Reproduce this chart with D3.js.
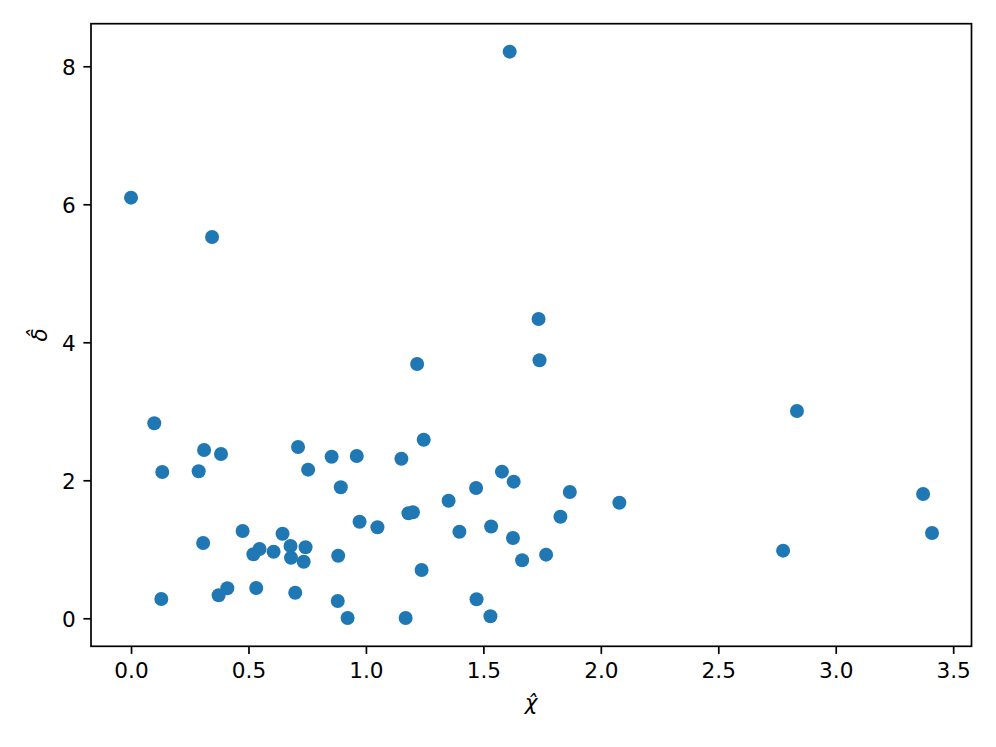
<!DOCTYPE html>
<html>
<head>
<meta charset="utf-8">
<script src="https://cdn.jsdelivr.net/npm/d3@7"></script>
<style>
html,body{margin:0;padding:0;background:#fff;}
svg{display:block;}
text{font-family:"DejaVu Sans",sans-serif;fill:#000;}
</style>
</head>
<body>
<svg id="chart" width="996" height="747"></svg>
<script>
const xValues = [0.000,0.345,1.612,1.735,1.739,1.218,2.835,0.099,1.246,0.711,0.311,0.383,0.854,0.961,1.151,0.133,0.288,0.754,1.579,1.629,0.893,1.469,1.352,1.868,2.079,3.372,1.181,1.200,1.828,0.973,1.049,1.533,1.398,0.475,3.410,0.645,1.626,0.307,0.547,0.679,0.743,0.607,0.521,1.767,0.681,0.735,0.882,2.776,1.665,1.237,0.410,0.373,0.533,0.699,0.129,0.880,1.471,0.922,1.169,1.530];
const yValues = [6.096,5.526,8.212,4.338,3.739,3.686,3.004,2.826,2.588,2.483,2.439,2.381,2.342,2.352,2.313,2.120,2.130,2.154,2.125,1.980,1.899,1.888,1.704,1.830,1.675,1.801,1.522,1.536,1.472,1.400,1.319,1.330,1.255,1.265,1.236,1.226,1.164,1.091,1.004,1.048,1.029,0.965,0.928,0.922,0.878,0.820,0.907,0.980,0.842,0.700,0.435,0.333,0.439,0.371,0.280,0.251,0.275,0.004,0.004,0.030];
const xTicks = [0.0,0.5,1.0,1.5,2.0,2.5,3.0,3.5];
const yTicks = [0,2,4,6,8];
const xLabel = "\u03C7\u0302";
const yLabel = "\u03B4\u0302";

const svg = d3.select("#chart");
const L = 91, R = 971.5, T = 23.7, B = 646.3;
const fs = 21.6;
const x = d3.scaleLinear().domain([-0.1704, 3.578]).range([L, R]);
const y = d3.scaleLinear().domain([-0.406, 8.617]).range([B, T]);

svg.append("rect").attr("width",996).attr("height",747).attr("fill","#fff");

const pts = xValues.map((v,i)=>({x:v,y:yValues[i]}));
svg.append("g").selectAll("circle").data(pts).join("circle")
  .attr("cx",d=>x(d.x)).attr("cy",d=>y(d.y)).attr("r",7)
  .attr("fill","#1f77b4");

// frame
svg.append("rect").attr("x",L).attr("y",T).attr("width",R-L).attr("height",B-T)
  .attr("fill","none").attr("stroke","#000").attr("stroke-width",1.7);

const xAxis = d3.axisBottom(x).tickValues(xTicks).tickFormat(d3.format(".1f")).tickSizeInner(7.6).tickSizeOuter(0).tickPadding(7.6);
const gx = svg.append("g").attr("transform",`translate(0,${B})`).call(xAxis);
gx.select(".domain").remove();
gx.selectAll(".tick line").attr("stroke","#000").attr("stroke-width",1.7);
gx.selectAll(".tick text").attr("font-size",fs).attr("font-family","DejaVu Sans").attr("dy",null).attr("y",null)
  .attr("dominant-baseline","alphabetic").attr("transform","translate(0,32)");

const yAxis = d3.axisLeft(y).tickValues(yTicks).tickFormat(d3.format("d")).tickSizeInner(7.6).tickSizeOuter(0).tickPadding(7.6);
const gy = svg.append("g").attr("transform",`translate(${L},0)`).call(yAxis);
gy.select(".domain").remove();
gy.selectAll(".tick line").attr("stroke","#000").attr("stroke-width",1.7);
gy.selectAll(".tick text").attr("font-size",fs).attr("font-family","DejaVu Sans").attr("dy",null)
  .attr("dominant-baseline","alphabetic").attr("transform","translate(0,7.9)");

// axis labels
svg.append("text").attr("transform",`translate(${(L+R)/2},710)`)
  .attr("text-anchor","middle").attr("font-size",fs).attr("font-style","italic").text(xLabel);
svg.append("text").attr("transform",`translate(47,${(T+B)/2}) rotate(-90)`)
  .attr("text-anchor","middle").attr("font-size",fs).attr("font-style","italic").text(yLabel);
</script>
</body>
</html>
